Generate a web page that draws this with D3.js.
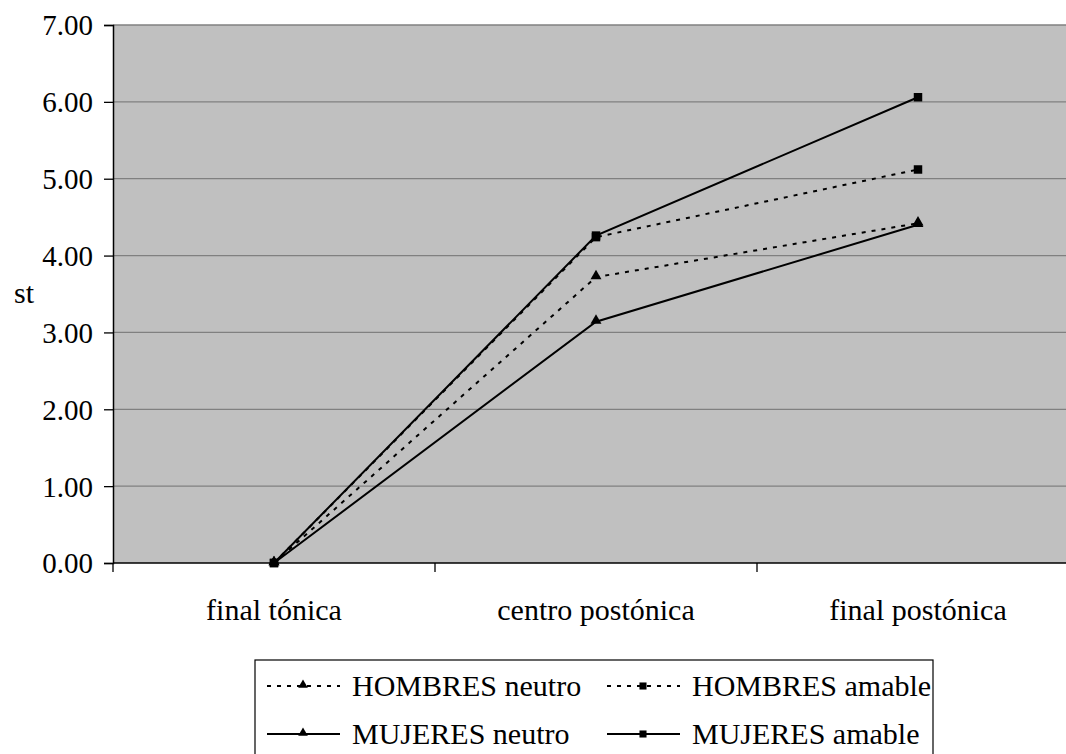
<!DOCTYPE html>
<html>
<head>
<meta charset="utf-8">
<script src="https://cdn.jsdelivr.net/npm/d3@7"></script>
<style>
  html, body { margin: 0; padding: 0; background: #fff; }
</style>
</head>
<body>
<svg id="chart" width="1066" height="754"></svg>
<script>
// categories on the x axis
const categories = ['final tónica', 'centro postónica', 'final postónica'];

// series values (semitones)
const hombresNeutro = [0, 3.72, 4.42];
const hombresAmable = [0, 4.24, 5.12];
const mujeresNeutro = [0, 3.14, 4.40];
const mujeresAmable = [0, 4.26, 6.06];

const seriesNames = ['HOMBRES neutro', 'HOMBRES amable', 'MUJERES neutro', 'MUJERES amable'];
const yTicks = [0, 1, 2, 3, 4, 5, 6, 7];

// table built from the arrays above
const series = [
  { name: seriesNames[0], values: hombresNeutro, dashed: true, marker: 'triangle' },
  { name: seriesNames[1], values: hombresAmable, dashed: true, marker: 'square' },
  { name: seriesNames[2], values: mujeresNeutro, dashed: false, marker: 'triangle' },
  { name: seriesNames[3], values: mujeresAmable, dashed: false, marker: 'square' },
];

const FONT = 'Liberation Serif, DejaVu Serif, serif';

const svg = d3.select('#chart');
const plot = { left: 113, top: 25, right: 1079, bottom: 563 };

const xScale = d3.scaleBand().domain(categories).range([plot.left, plot.right]).padding(0);
const yScale = d3.scaleLinear().domain([0, 7]).range([plot.bottom, plot.top]);

// plot background
svg.append('rect')
  .attr('x', plot.left)
  .attr('y', plot.top)
  .attr('width', plot.right - plot.left)
  .attr('height', plot.bottom - plot.top)
  .attr('fill', '#c0c0c0');

// gridlines
svg.append('g')
  .selectAll('line')
  .data(yTicks.filter((d) => d > 0))
  .enter()
  .append('line')
  .attr('x1', plot.left)
  .attr('x2', plot.right)
  .attr('y1', (d) => yScale(d))
  .attr('y2', (d) => yScale(d))
  .attr('stroke', '#808080')
  .attr('stroke-width', 1.3);

// y axis
const yAxis = svg.append('g')
  .attr('transform', `translate(${plot.left},0)`)
  .call(d3.axisLeft(yScale).tickValues(yTicks).tickFormat(d3.format('.2f')).tickSize(9).tickPadding(11));
yAxis.attr('font-family', FONT).attr('font-size', 29);
yAxis.select('.domain').attr('stroke', '#000').attr('stroke-width', 1.5);
yAxis.selectAll('.tick line').attr('stroke', '#000').attr('stroke-width', 1.3);
yAxis.selectAll('.tick text')
  .attr('font-family', FONT)
  .attr('font-size', 29)
  .attr('dy', '0.34em');

// x axis: line plus ticks at category boundaries
svg.append('line')
  .attr('x1', plot.left)
  .attr('x2', plot.right)
  .attr('y1', plot.bottom)
  .attr('y2', plot.bottom)
  .attr('stroke', '#000')
  .attr('stroke-width', 1.5);

svg.append('g')
  .selectAll('line')
  .data(categories)
  .enter()
  .append('line')
  .attr('x1', (d) => xScale(d))
  .attr('x2', (d) => xScale(d))
  .attr('y1', plot.bottom)
  .attr('y2', plot.bottom + 9)
  .attr('stroke', '#000')
  .attr('stroke-width', 1.3);

svg.append('g')
  .selectAll('text')
  .data(categories)
  .enter()
  .append('text')
  .attr('x', (d) => xScale(d) + xScale.bandwidth() / 2)
  .attr('y', 620)
  .attr('text-anchor', 'middle')
  .attr('font-family', FONT)
  .attr('font-size', 30)
  .text((d) => d);

// y axis title
svg.append('text')
  .attr('x', 24)
  .attr('y', (plot.top + plot.bottom) / 2 + 9)
  .attr('text-anchor', 'middle')
  .attr('font-family', FONT)
  .attr('font-size', 30)
  .text('st');

// marker drawing
const symbolFor = (marker, size) =>
  d3.symbol().type(marker === 'square' ? d3.symbolSquare : d3.symbolTriangle).size(size)();

const line = d3.line()
  .x((d, i) => xScale(categories[i]) + xScale.bandwidth() / 2)
  .y((d) => yScale(d));

const seriesG = svg.append('g')
  .selectAll('g')
  .data(series)
  .enter()
  .append('g');

seriesG.append('path')
  .attr('d', (d) => line(d.values))
  .attr('fill', 'none')
  .attr('stroke', '#000')
  .attr('stroke-width', 2)
  .attr('stroke-dasharray', (d) => (d.dashed ? '4,6' : null));

seriesG.each(function drawMarkers(s) {
  d3.select(this)
    .selectAll('path.marker')
    .data(s.values)
    .enter()
    .append('path')
    .attr('class', 'marker')
    .attr('transform', (d, i) =>
      `translate(${xScale(categories[i]) + xScale.bandwidth() / 2},${yScale(d) + (s.marker === 'triangle' ? -1 : 0)})`)
    .attr('d', symbolFor(s.marker, s.marker === 'square' ? 72 : 52))
    .attr('fill', '#000');
});

// legend
const legend = svg.append('g').attr('transform', 'translate(255,660)');
legend.append('rect')
  .attr('x', 0)
  .attr('y', 0)
  .attr('width', 678)
  .attr('height', 100)
  .attr('fill', '#fff')
  .attr('stroke', '#000')
  .attr('stroke-width', 1.2);

const item = legend.selectAll('g.item')
  .data(series)
  .enter()
  .append('g')
  .attr('class', 'item')
  .attr('transform', (d, i) => `translate(${12 + (i % 2) * 340},${26 + Math.floor(i / 2) * 48})`);

item.append('line')
  .attr('x1', 0)
  .attr('x2', 73)
  .attr('y1', 0)
  .attr('y2', 0)
  .attr('stroke', '#000')
  .attr('stroke-width', 2)
  .attr('stroke-dasharray', (d) => (d.dashed ? '4,6' : null));

item.append('path')
  .attr('transform', (d) => `translate(36,${d.marker === 'triangle' ? -1 : 0})`)
  .attr('d', (d) => symbolFor(d.marker, d.marker === 'square' ? 50 : 40))
  .attr('fill', '#000');

item.append('text')
  .attr('x', 85)
  .attr('y', 10)
  .attr('font-family', FONT)
  .attr('font-size', 30)
  .text((d) => d.name);
</script>
</body>
</html>
